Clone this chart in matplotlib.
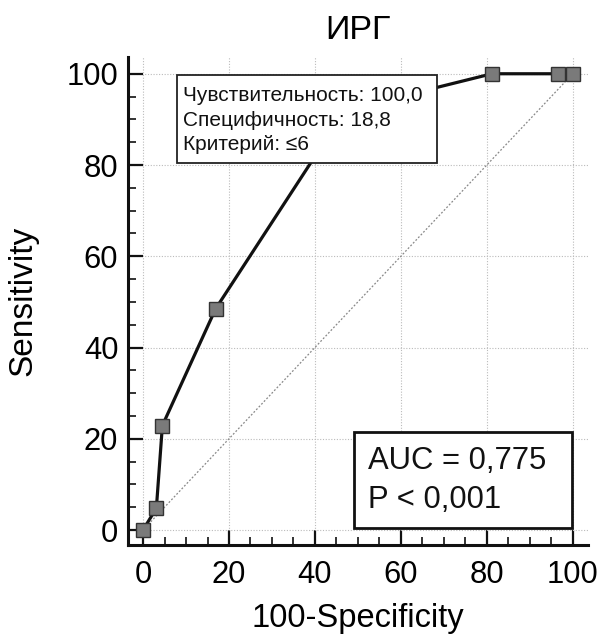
import matplotlib
matplotlib.use("Agg")
import matplotlib.pyplot as plt
from matplotlib.patches import Rectangle
from matplotlib.ticker import MultipleLocator

plt.rcParams["font.family"] = ["Liberation Sans", "DejaVu Sans"]

# ROC points (100-Specificity, Sensitivity)
fpr = [0, 3.1, 4.5, 16.9, 47.0, 81.2, 96.5, 100]
tpr = [0, 4.8, 22.9, 48.5, 92.0, 100, 100, 100]

title = "ИРГ"
xlabel = "100-Specificity"
ylabel = "Sensitivity"
crit_lines = ["Чувствительность: 100,0", "Специфичность: 18,8", "Критерий: ≤6"]
stat_lines = ["AUC = 0,775", "P < 0,001"]
ticks = [0, 20, 40, 60, 80, 100]

fig = plt.figure(figsize=(6.01, 6.39), dpi=100)
ax = fig.add_axes([0.213, 0.147, 0.765, 0.764])

ax.set_xlim(-3.5, 103.5)
ax.set_ylim(-3.3, 103.7)

ax.grid(True, which="major", color="#bbbbbb", linestyle=(0, (1, 1.5)), linewidth=0.8)
ax.set_axisbelow(True)

ax.plot([0, 100], [0, 100], color="#888888", linestyle=(0, (1.5, 1.5)), linewidth=0.9, zorder=2)
ax.plot(fpr, tpr, color="#111111", linewidth=2.3, marker="s", markersize=9.5,
        markerfacecolor="#7a7a7a", markeredgecolor="#333333", markeredgewidth=1.0, zorder=3)

# criterion box
ax.add_patch(Rectangle((7.9, 80.5), 60.5, 19.3, facecolor="white", edgecolor="#222222",
                       linewidth=1.3, zorder=5))
for i, line in enumerate(crit_lines):
    ax.text(9.3, 94.1 - 5.45 * i, line, fontsize=15, va="baseline", ha="left",
            color="#111111", zorder=6)

# AUC box
ax.add_patch(Rectangle((49.0, 0.4), 50.9, 21.1, facecolor="white", edgecolor="#111111",
                       linewidth=2.0, zorder=5))
for i, line in enumerate(stat_lines):
    ax.text(52.3, 13.4 - 8.6 * i, line, fontsize=22.3, va="baseline", ha="left",
            color="#111111", zorder=6)

ax.set_xticks(ticks)
ax.set_yticks(ticks)
ax.xaxis.set_minor_locator(MultipleLocator(5))
ax.yaxis.set_minor_locator(MultipleLocator(5))
ax.tick_params(which="major", direction="in", length=11, width=1.6, labelsize=22.3, color="#111111")
ax.tick_params(which="minor", direction="in", length=6, width=1.2, color="#111111")
ax.tick_params(axis="x", which="major", pad=11)
ax.tick_params(axis="y", which="major", pad=7)

for side in ["top", "right"]:
    ax.spines[side].set_visible(False)
for side in ["left", "bottom"]:
    ax.spines[side].set_linewidth(2.2)
    ax.spines[side].set_color("#111111")

ax.set_title(title, fontsize=24.5, pad=13)
ax.set_xlabel(xlabel, fontsize=23.5, labelpad=9)
ax.set_ylabel(ylabel, fontsize=24, labelpad=20)

fig.savefig("out.png", dpi=100)
